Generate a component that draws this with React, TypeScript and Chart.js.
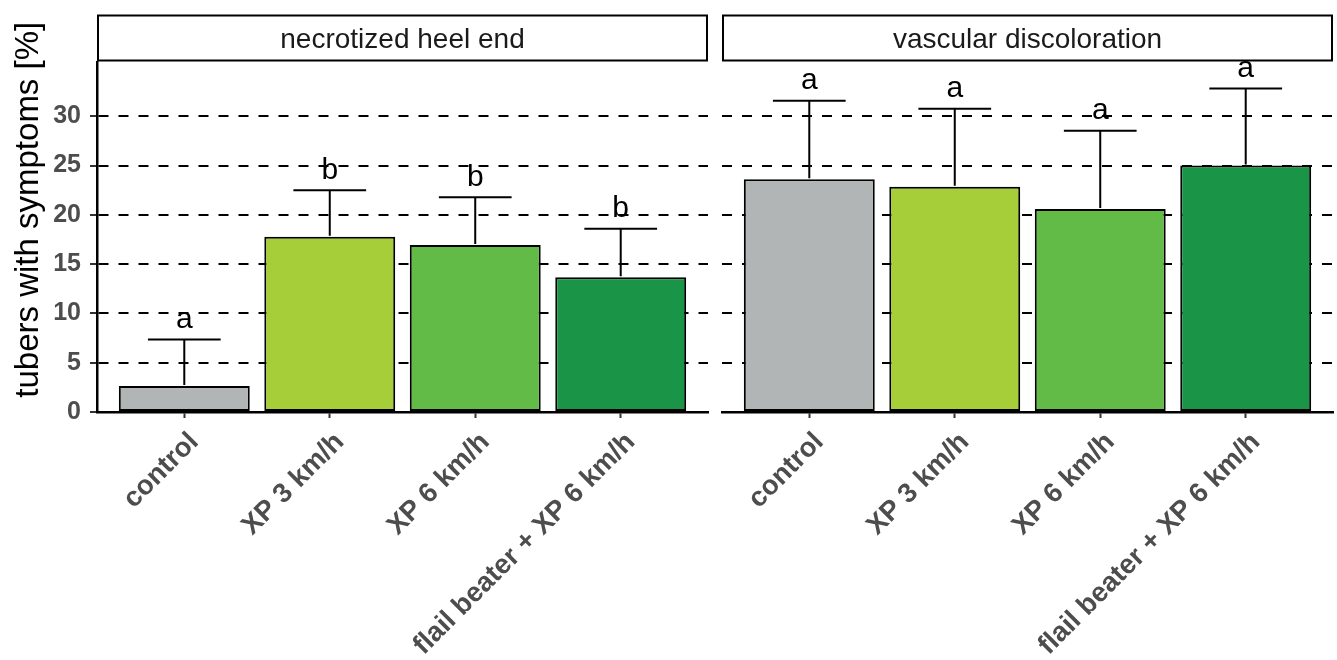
import React, { useEffect, useRef } from "react";
import { Chart, registerables } from "chart.js";

Chart.register(...registerables);

const categories = ["control", "XP 3 km/h", "XP 6 km/h", "flail beater + XP 6 km/h"];
const barColors = ["#b2b5b5", "#a6ce39", "#62bb47", "#1a9447"];
const yTicks = [0, 5, 10, 15, 20, 25, 30];
const yMin = 0;
const yMax = 35.5;
const yTitle = "tubers with symptoms [%]";

const heelTitle = "necrotized heel end";
const heelMeans = [2.64, 17.77, 16.95, 13.68];
const heelErrTops = [7.35, 22.5, 21.77, 18.58];
const heelLetters = ["a", "b", "b", "b"];

const vascTitle = "vascular discoloration";
const vascMeans = [23.6, 22.84, 20.6, 25.0];
const vascErrTops = [31.57, 30.76, 28.53, 32.8];
const vascLetters = ["a", "a", "a", "a"];

const FONT = "'Liberation Sans', Arial, Helvetica, sans-serif";
const H = 660;

type PanelProps = {
  title: string;
  means: number[];
  errTops: number[];
  letters: string[];
  first: boolean;
  left: number;
  width: number;
  axisWidth: number;
};

function Panel(props: PanelProps) {
  const ref = useRef<HTMLCanvasElement>(null);
  useEffect(() => {
    const canvas = ref.current!;
    const { title, means, errTops, letters, first, axisWidth } = props;

    const facet = {
      id: "facet",
      afterDatasetsDraw(chart: any) {
        const { ctx, chartArea, scales } = chart;
        const x = scales.x;
        const y = scales.y;
        ctx.save();
        // error bars
        ctx.strokeStyle = "#000";
        ctx.lineWidth = 2;
        ctx.lineCap = "butt";
        means.forEach((m, i) => {
          const cx = x.getPixelForValue(i + 1);
          const capL = x.getPixelForValue(i + 0.75);
          const capR = x.getPixelForValue(i + 1.25);
          const yb = y.getPixelForValue(m);
          const yt = y.getPixelForValue(errTops[i]);
          ctx.beginPath();
          ctx.moveTo(cx, yb - 1);
          ctx.lineTo(cx, yt);
          ctx.moveTo(capL, yt);
          ctx.lineTo(capR, yt);
          ctx.stroke();
        });
        // letters
        ctx.fillStyle = "#000";
        ctx.font = `30px ${FONT}`;
        ctx.textAlign = "center";
        ctx.textBaseline = "alphabetic";
        letters.forEach((l, i) => {
          ctx.fillText(l, x.getPixelForValue(i + 1), y.getPixelForValue(errTops[i]) - 11.5);
        });
        // strip
        const sTop = 15.5;
        const sBottom = chartArea.top - 1.5;
        const sLeft = chartArea.left + 1;
        const sRight = chartArea.right - 1;
        ctx.fillStyle = "#fff";
        ctx.fillRect(sLeft, sTop, sRight - sLeft, sBottom - sTop);
        ctx.strokeStyle = "#000";
        ctx.lineWidth = 2;
        ctx.strokeRect(sLeft, sTop, sRight - sLeft, sBottom - sTop);
        ctx.fillStyle = "#1a1a1a";
        ctx.font = `28px ${FONT}`;
        ctx.textAlign = "center";
        ctx.fillText(title, (sLeft + sRight) / 2, 48);
        // y title
        if (first) {
          ctx.translate(38, (sTop + chartArea.bottom) / 2 - 4);
          ctx.rotate(-Math.PI / 2);
          ctx.fillStyle = "#000";
          ctx.font = `33px ${FONT}`;
          ctx.textAlign = "center";
          ctx.fillText(yTitle, 0, 0);
        }
        ctx.restore();
      },
    };

    const chart = new Chart(canvas, {
      type: "bar",
      data: {
        datasets: [
          {
            data: means.map((v, i) => ({ x: i + 1, y: v })),
            backgroundColor: barColors,
            borderColor: "#000",
            borderWidth: 2,
            borderSkipped: false,
            barPercentage: 0.9,
            categoryPercentage: 1.0,
          } as any,
        ],
      },
      options: {
        responsive: false,
        animation: false,
        events: [],
        layout: { padding: { top: 62, left: 0, right: 4, bottom: 0 } },
        plugins: { legend: { display: false }, tooltip: { enabled: false }, title: { display: false } },
        scales: {
          x: {
            type: "linear",
            min: 0.4,
            max: 4.6,
            offset: false,
            afterBuildTicks: (s: any) => {
              s.ticks = categories.map((_, i) => ({ value: i + 1 }));
            },
            afterFit: (s: any) => {
              s.height = H - 412;
            },
            ticks: {
              autoSkip: false,
              minRotation: 45,
              maxRotation: 45,
              padding: 8,
              labelOffset: 10,
              color: "#4d4d4d",
              font: { family: FONT, size: 27.5, weight: "bold" },
              callback: (v: any) => categories[Math.round(Number(v)) - 1] ?? "",
            },
            grid: {
              display: true,
              drawOnChartArea: false,
              drawTicks: true,
              tickLength: 6,
              tickColor: "#333",
              tickWidth: 2,
              offset: false,
            },
            border: { display: true, color: "#000", width: 2.5 },
          } as any,
          y: {
            type: "linear",
            min: yMin,
            max: yMax,
            afterBuildTicks: (s: any) => {
              s.ticks = yTicks.map((v) => ({ value: v }));
            },
            afterFit: (s: any) => {
              s.width = axisWidth;
            },
            ticks: {
              display: first,
              padding: 9,
              color: "#4d4d4d",
              font: { family: FONT, size: 25, weight: "bold" },
            },
            grid: {
              color: "#000",
              lineWidth: 2,
              drawTicks: first,
              tickLength: 7,
              tickColor: "#333",
              tickWidth: 2,
              tickBorderDash: [],
            },
            border: { display: first, color: "#000", width: 2.5, dash: [10, 10] },
          } as any,
        },
      },
      plugins: [facet],
    });
    return () => chart.destroy();
  }, []);

  return (
    <canvas
      ref={ref}
      width={props.width}
      height={H}
      style={{ position: "absolute", left: props.left, top: 0, width: props.width, height: H }}
    />
  );
}

export default function App() {
  return (
    <div style={{ position: "absolute", left: 0, top: 0, width: 1337, height: H, background: "#fff" }}>
      <Panel
        title={heelTitle}
        means={heelMeans}
        errTops={heelErrTops}
        letters={heelLetters}
        first={true}
        left={0}
        width={712}
        axisWidth={97}
      />
      <Panel
        title={vascTitle}
        means={vascMeans}
        errTops={vascErrTops}
        letters={vascLetters}
        first={false}
        left={712}
        width={625}
        axisWidth={10}
      />
    </div>
  );
}
